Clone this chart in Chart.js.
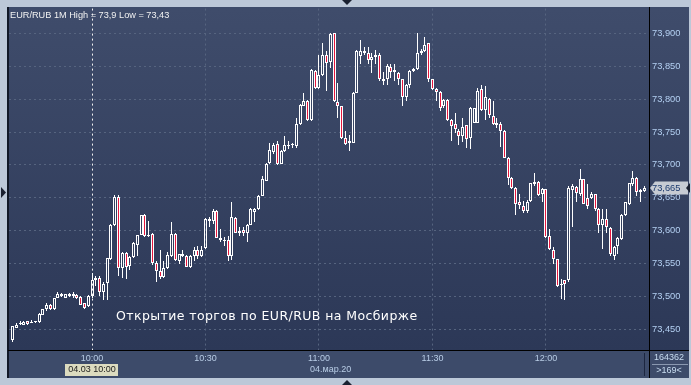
<!DOCTYPE html>
<html>
<head>
<meta charset="utf-8">
<script src="https://cdn.jsdelivr.net/npm/chart.js@4.4.1/dist/chart.umd.min.js"></script>
<style>
  html, body { margin: 0; padding: 0; background: #bcc8d8; overflow: hidden; }
  canvas { display: block; }
</style>
</head>
<body>
<canvas id="chart" width="691" height="385"></canvas>
<script>
// ── DATA (EUR/RUB, 1 minute candles, 09:39 .. 12:26) ─────────
const START_MINUTE = 9 * 60 + 39;

const OPEN = [
  73.433,73.452,73.458,73.457,73.462,73.459,73.461,73.461,73.472,73.480,
  73.487,73.480,73.498,73.504,73.498,73.503,73.500,73.502,73.499,73.489,
  73.485,73.501,73.525,73.528,73.507,73.520,73.556,73.608,73.651,73.543,
  73.566,73.546,73.560,73.578,73.594,73.624,73.591,73.595,73.551,73.539,
  73.529,73.543,73.561,73.595,73.554,73.565,73.562,73.544,73.562,73.571,
  73.562,73.573,73.618,73.615,73.630,73.589,73.584,73.586,73.561,73.619,
  73.597,73.601,73.597,73.609,73.629,73.633,73.653,73.676,73.703,73.719,
  73.732,73.702,73.721,73.728,73.730,73.729,73.762,73.790,73.797,73.768,
  73.843,73.817,73.837,73.868,73.856,73.900,73.795,73.789,73.741,73.734,
  73.734,73.810,73.865,73.874,73.870,73.860,73.864,73.867,73.828,73.830,
  73.849,73.845,73.840,73.830,73.803,73.822,73.843,73.846,73.870,73.874,
  73.885,73.830,73.816,73.811,73.789,73.799,73.769,73.762,73.752,73.744,
  73.760,73.741,73.764,73.764,73.815,73.784,73.801,73.774,73.763,73.762,
  73.752,73.711,73.680,73.665,73.643,73.638,73.630,73.645,73.671,73.674,
  73.655,73.663,73.591,73.571,73.556,73.517,73.524,73.524,73.662,73.667,
  73.656,73.678,73.650,73.650,73.655,73.633,73.608,73.618,73.604,73.562,
  73.576,73.587,73.623,73.640,73.671,73.680,73.658,73.660
];
const HIGH = [
  73.455,73.460,73.462,73.462,73.463,73.464,73.462,73.474,73.481,73.490,
  73.488,73.498,73.507,73.505,73.504,73.505,73.506,73.503,73.500,73.490,
  73.502,73.536,73.531,73.531,73.521,73.559,73.610,73.654,73.654,73.567,
  73.567,73.562,73.583,73.594,73.624,73.625,73.615,73.596,73.554,73.570,
  73.554,73.567,73.613,73.596,73.565,73.570,73.563,73.563,73.575,73.576,
  73.577,73.619,73.620,73.633,73.632,73.602,73.590,73.592,73.643,73.620,
  73.605,73.605,73.610,73.634,73.634,73.654,73.683,73.703,73.734,73.734,
  73.736,73.722,73.744,73.737,73.734,73.772,73.792,73.810,73.798,73.846,
  73.844,73.868,73.885,73.873,73.900,73.900,73.825,73.790,73.751,73.746,
  73.811,73.875,73.890,73.880,73.880,73.870,73.875,73.870,73.842,73.853,
  73.853,73.853,73.842,73.830,73.823,73.845,73.847,73.900,73.877,73.895,
  73.886,73.831,73.817,73.812,73.800,73.800,73.770,73.779,73.754,73.771,
  73.761,73.788,73.787,73.817,73.821,73.820,73.802,73.797,73.771,73.766,
  73.753,73.712,73.681,73.666,73.656,73.645,73.646,73.673,73.687,73.675,
  73.665,73.664,73.602,73.575,73.557,73.527,73.525,73.668,73.671,73.668,
  73.694,73.679,73.671,73.658,73.656,73.634,73.633,73.633,73.605,73.576,
  73.590,73.625,73.644,73.673,73.690,73.681,73.663,73.668
];
const LOW = [
  73.430,73.451,73.456,73.456,73.457,73.459,73.460,73.460,73.471,73.478,
  73.479,73.479,73.497,73.499,73.497,73.499,73.498,73.496,73.486,73.480,
  73.484,73.498,73.516,73.501,73.495,73.494,73.555,73.607,73.531,73.528,
  73.526,73.540,73.558,73.561,73.593,73.590,73.590,73.548,73.522,73.527,
  73.528,73.542,73.560,73.554,73.549,73.560,73.544,73.543,73.554,73.557,
  73.560,73.572,73.605,73.610,73.588,73.582,73.577,73.554,73.555,73.596,
  73.591,73.591,73.582,73.608,73.613,73.632,73.652,73.675,73.701,73.717,
  73.700,73.701,73.720,73.724,73.725,73.726,73.761,73.789,73.767,73.767,
  73.816,73.816,73.836,73.812,73.847,73.796,73.772,73.740,73.731,73.721,
  73.733,73.809,73.853,73.868,73.853,73.840,73.853,73.827,73.822,73.822,
  73.832,73.827,73.822,73.790,73.797,73.817,73.842,73.845,73.868,73.872,
  73.826,73.814,73.797,73.782,73.786,73.767,73.736,73.749,73.731,73.735,
  73.726,73.724,73.763,73.763,73.782,73.769,73.771,73.761,73.756,73.727,
  73.710,73.670,73.663,73.623,73.633,73.626,73.626,73.643,73.668,73.652,
  73.643,73.589,73.570,73.549,73.514,73.496,73.495,73.522,73.605,73.643,
  73.653,73.640,73.633,73.648,73.630,73.597,73.572,73.597,73.562,73.555,
  73.565,73.586,73.622,73.639,73.668,73.653,73.643,73.659
];
const CLOSE = [
  73.454,73.457,73.459,73.461,73.458,73.460,73.461,73.473,73.480,73.487,
  73.480,73.497,73.504,73.500,73.503,73.500,73.504,73.497,73.487,73.482,
  73.501,73.524,73.528,73.506,73.519,73.558,73.609,73.651,73.543,73.566,
  73.545,73.560,73.581,73.593,73.623,73.591,73.592,73.550,73.539,73.529,
  73.543,73.563,73.595,73.555,73.564,73.561,73.545,73.562,73.570,73.562,
  73.571,73.618,73.614,73.630,73.589,73.585,73.585,73.561,73.620,73.597,
  73.600,73.597,73.609,73.633,73.633,73.653,73.678,73.702,73.722,73.731,
  73.701,73.721,73.730,73.730,73.731,73.762,73.791,73.797,73.768,73.845,
  73.817,73.837,73.868,73.855,73.899,73.797,73.790,73.741,73.732,73.736,
  73.810,73.874,73.874,73.870,73.859,73.864,73.868,73.830,73.831,73.850,
  73.842,73.841,73.831,73.803,73.822,73.843,73.846,73.870,73.874,73.883,
  73.830,73.815,73.811,73.787,73.798,73.769,73.759,73.754,73.744,73.758,
  73.740,73.787,73.786,73.813,73.783,73.803,73.776,73.762,73.760,73.752,
  73.711,73.680,73.665,73.641,73.639,73.630,73.644,73.672,73.674,73.654,
  73.664,73.590,73.572,73.557,73.515,73.518,73.518,73.665,73.668,73.657,
  73.678,73.641,73.638,73.655,73.633,73.609,73.618,73.606,73.565,73.575,
  73.589,73.624,73.643,73.672,73.680,73.658,73.661,73.665
];

const MINUTES = OPEN.map((_, i) => START_MINUTE + i);
const OPEN_MINUTE = 10 * 60;   // 10:00, start of MOEX session
const DATE_MINUTE = 11 * 60;   // date caption under 11:00

const HEADER   = "EUR/RUB 1M High = 73,9 Low = 73,43";
const CAPTION  = "Открытие торгов по EUR/RUB на Мосбирже";
const DATE_TXT = "04.мар.20";
const CURSOR_TXT = "04.03 10:00";
const VOLUME_TXT = "164362";
const COUNT_TXT  = ">169<";

// ── STYLE ───────────────────────────────────────────────────
const FRAME    = "#bcc8d8";
const AXIS_BG  = "#3d4b6a";
const PLOT_TOP = "#3f4c6b";
const PLOT_BOT = "#2c3857";
const GRID     = "#56647f";
const UP_FILL  = "rgba(0,0,0,0)";
const DN_FILL  = "#e5163d";
const WHITE    = "#ffffff";
const FONT     = '"Liberation Sans", Arial, sans-serif';

const fmtTime = m => String(Math.floor(m / 60)).padStart(2, "0") + ":" + String(m % 60).padStart(2, "0");
const fmtPrice = v => v.toFixed(3).replace(".", ",");

// ── DATASETS ────────────────────────────────────────────────
const bodies = MINUTES.map((m, i) => ({ x: m, y: [OPEN[i], CLOSE[i]] }));
const upperWicks = MINUTES.map((m, i) => ({ x: m, y: [Math.max(OPEN[i], CLOSE[i]), HIGH[i]] }));
const lowerWicks = MINUTES.map((m, i) => ({ x: m, y: [LOW[i], Math.min(OPEN[i], CLOSE[i])] }));

// snap bars to whole pixels so they stay crisp like the terminal screenshot
const snapPlugin = {
  id: "snap",
  afterDatasetsUpdate(chart) {
    chart.getSortedVisibleDatasetMetas().forEach(meta => {
      const isBody = meta.index === 0;
      meta.data.forEach(el => {
        el.x = Math.floor(el.x) + 0.5;
        el.y = Math.round(el.y);
        el.base = Math.round(el.base);
        if (isBody && el.y === el.base) el.base = el.y + 1;
      });
    });
  }
};

const framePlugin = {
  id: "frame",
  beforeDraw(chart) {
    const { ctx, chartArea: a } = chart;
    ctx.save();
    ctx.fillStyle = FRAME;
    ctx.fillRect(0, 0, chart.width, chart.height);
    ctx.fillStyle = AXIS_BG;
    ctx.fillRect(8, 7, 681, 371);
    const g = ctx.createLinearGradient(0, a.top, 0, a.bottom);
    g.addColorStop(0, PLOT_TOP);
    g.addColorStop(1, PLOT_BOT);
    ctx.fillStyle = g;
    ctx.fillRect(a.left - 1, a.top, 689 - a.left + 1, a.bottom - a.top);
    ctx.restore();
  },
  afterDraw(chart) {
    const { ctx, chartArea: a } = chart;
    const xs = chart.scales.x, ys = chart.scales.y;
    ctx.save();

    // panel lines
    ctx.fillStyle = "#111827";
    ctx.fillRect(7, 7, 2, 371);
    ctx.fillStyle = "#000000";
    ctx.fillRect(8, a.bottom, 681, 1);
    ctx.fillRect(a.right, 7, 1, 371);
    ctx.fillStyle = "#1c2640";
    ctx.fillRect(644, 353, 1, 23);

    // header
    ctx.font = "9.2px " + FONT;
    ctx.textBaseline = "middle";
    ctx.textAlign = "left";
    ctx.fillStyle = "#f2f2f2";
    ctx.fillText(HEADER, 10, 15);

    // caption
    ctx.font = "12.5px 'DejaVu Sans'";
    ctx.fillStyle = WHITE;
    ctx.letterSpacing = "0px";
    const w = ctx.measureText(CAPTION).width;
    const ls = (301 - w) / (CAPTION.length - 1);
    ctx.letterSpacing = ls.toFixed(2) + "px";
    ctx.fillText(CAPTION, 116, 316.5);
    ctx.letterSpacing = "0px";

    // date under 11:00
    ctx.font = "9px " + FONT;
    ctx.fillStyle = "#b9cde6";
    ctx.fillText(DATE_TXT, xs.getPixelForValue(DATE_MINUTE) - 9, 370);

    // cursor date box
    const cx = xs.getPixelForValue(OPEN_MINUTE);
    ctx.fillStyle = "#dcdbbf";
    ctx.fillRect(Math.round(cx) - 27, 364, 53, 12);
    ctx.fillStyle = "#1c1c1c";
    ctx.textAlign = "center";
    ctx.fillText(CURSOR_TXT, cx, 370);

    // volume / count box
    ctx.fillStyle = "#c8dcf0";
    ctx.fillText(VOLUME_TXT, 669, 357.5);
    ctx.fillText(COUNT_TXT, 669, 371);
    ctx.fillStyle = "#8a98b0";
    ctx.fillRect(652, 364, 36, 1);

    // last price label
    const last = CLOSE[CLOSE.length - 1];
    const py = Math.round(ys.getPixelForValue(last));
    ctx.fillStyle = "#c6cbd3";
    ctx.beginPath();
    ctx.moveTo(650, py);
    ctx.lineTo(655, py - 6.5);
    ctx.lineTo(688, py - 6.5);
    ctx.lineTo(688, py + 6.5);
    ctx.lineTo(655, py + 6.5);
    ctx.closePath();
    ctx.fill();
    ctx.fillStyle = "#1b3a6e";
    ctx.textAlign = "left";
    ctx.font = "9.3px " + FONT;
    ctx.fillText(fmtPrice(last), 652, py + 0.5);

    // little frame arrows
    ctx.fillStyle = "#1a2030";
    const tri = pts => { ctx.beginPath(); ctx.moveTo(...pts[0]); ctx.lineTo(...pts[1]); ctx.lineTo(...pts[2]); ctx.closePath(); ctx.fill(); };
    tri([[342, 0], [352, 0], [347, 5]]);
    tri([[342, 385], [352, 385], [347, 380]]);
    tri([[1, 187], [1, 198], [6, 192.5]]);
    tri([[690, 183], [690, 193], [686, 188]]);

    ctx.restore();
  }
};

// ── CHART ───────────────────────────────────────────────────
const common = {
  type: "bar",
  grouped: false,
  inflateAmount: 0,
  borderSkipped: false,
};

new Chart(document.getElementById("chart").getContext("2d"), {
  type: "bar",
  data: {
    datasets: [
      {
        ...common,
        label: "body",
        data: bodies,
        order: 0,
        barThickness: 3,
        minBarLength: 1,
        borderWidth: 1,
        borderColor: WHITE,
        backgroundColor: CLOSE.map((c, i) => c < OPEN[i] ? DN_FILL : UP_FILL),
      },
      {
        ...common,
        label: "upper",
        data: upperWicks,
        order: 1,
        barThickness: 1,
        borderWidth: 0,
        backgroundColor: WHITE,
      },
      {
        ...common,
        label: "lower",
        data: lowerWicks,
        order: 1,
        barThickness: 1,
        borderWidth: 0,
        backgroundColor: WHITE,
      }
    ]
  },
  options: {
    responsive: false,
    devicePixelRatio: 1,
    animation: false,
    events: [],
    layout: { padding: { left: 9, top: 7, right: 2, bottom: 7 } },
    plugins: {
      legend: { display: false },
      tooltip: { enabled: false },
    },
    scales: {
      x: {
        type: "linear",
        position: "bottom",
        min: 578.06,
        max: 747.23,
        offset: false,
        afterFit: s => { s.height = 28; },
        grid: {
          offset: false,
          drawTicks: false,
          color: c => (c.tick && c.tick.value === OPEN_MINUTE) ? "#f4f4f4" : GRID,
        },
        border: { display: false, dash: [2, 3] },
        ticks: {
          stepSize: 30,
          includeBounds: false,
          padding: 3,
          maxRotation: 0,
          color: "#b9cde6",
          font: { family: FONT, size: 9 },
          callback: v => fmtTime(v),
        }
      },
      y: {
        type: "linear",
        position: "right",
        min: 73.4182,
        max: 73.9379,
        afterFit: s => { s.width = 40; },
        grid: { drawTicks: false, color: GRID },
        border: { display: false, dash: [2, 3] },
        ticks: {
          stepSize: 0.05,
          includeBounds: false,
          padding: 3,
          color: "#b4d0f2",
          font: { family: FONT, size: 9.3 },
          callback: v => fmtPrice(v),
        }
      }
    }
  },
  plugins: [snapPlugin, framePlugin]
});
</script>
</body>
</html>
